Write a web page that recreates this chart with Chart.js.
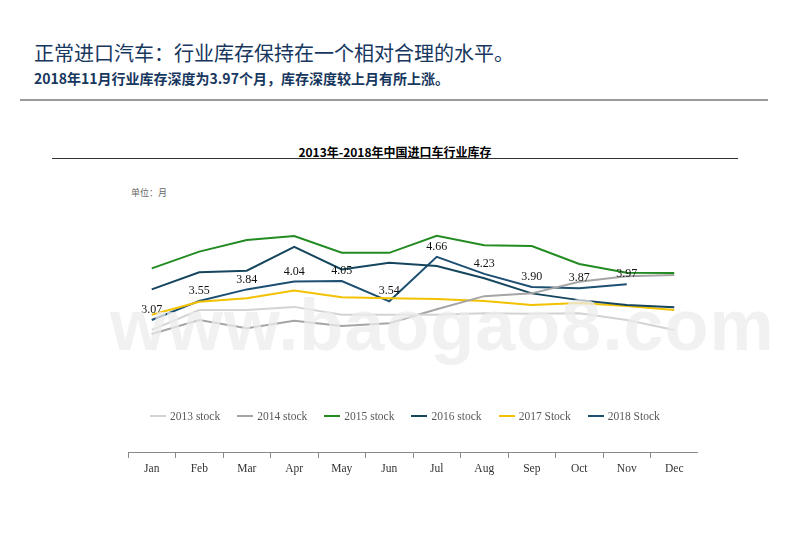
<!DOCTYPE html>
<html><head><meta charset="utf-8">
<script src="https://cdn.jsdelivr.net/npm/chart.js@4/dist/chart.umd.min.js"></script>
<style>
body{margin:0;width:800px;height:553px;background:#fff;position:relative;overflow:hidden;font-family:"Noto Sans CJK SC",sans-serif}
.a{position:absolute;white-space:nowrap}
#leg{position:absolute;left:150px;top:410px;font-family:"Liberation Serif",serif;font-size:11.5px;color:#595959;display:flex;gap:0}
#leg span{display:inline-flex;align-items:center;margin-right:17px}
#leg i{display:inline-block;width:16px;height:2px;margin-right:4px}
</style></head><body>
<div class="a" style="left:34px;top:38px;font-size:20px;color:#17375e">正常进口汽车：行业库存保持在一个相对合理的水平。</div>
<div class="a" style="left:34px;top:68px;font-size:14px;font-weight:bold;color:#17375e">2018年11月行业库存深度为3.97个月，库存深度较上月有所上涨。</div>
<div class="a" style="left:20px;top:99px;width:748px;height:2px;background:#9a9a9a"></div>
<div class="a" style="left:52px;top:143px;width:686px;text-align:center;font-size:12px;font-weight:bold;color:#000">2013年-2018年中国进口车行业库存</div>
<div class="a" style="left:52px;top:158px;width:686px;height:1px;background:#333"></div>
<div class="a" style="left:131px;top:186px;font-size:9px;color:#666">单位：月</div>
<canvas id="c" width="570" height="290" style="position:absolute;left:128px;top:190px;width:570px;height:290px"></canvas>
<div id="leg"></div>
<div class="a" style="left:110px;top:284px;font-family:'Liberation Sans',sans-serif;font-weight:bold;font-size:72px;color:rgba(236,236,236,0.75);letter-spacing:1px">www.baogao8.com</div>
<script>
const months=["Jan","Feb","Mar","Apr","May","Jun","Jul","Aug","Sep","Oct","Nov","Dec"];
const names=["2013 stock","2014 stock","2015 stock","2016 stock","2017 Stock","2018 Stock"];
const s2013=[2.82,3.32,3.32,3.40,3.20,3.20,3.20,3.24,3.23,3.24,3.07,2.82];
const s2014=[2.72,3.07,2.86,3.05,2.92,2.99,3.34,3.67,3.74,4.03,4.17,4.20];
const s2015=[4.37,4.79,5.08,5.18,4.76,4.76,5.19,4.95,4.93,4.48,4.26,4.25];
const s2016=[3.84,4.27,4.31,4.91,4.34,4.51,4.43,4.12,3.74,3.57,3.45,3.39];
const s2017=[3.20,3.53,3.62,3.81,3.64,3.62,3.60,3.55,3.45,3.50,3.42,3.32];
const s2018=[3.07,3.55,3.84,4.04,4.05,3.54,4.66,4.23,3.90,3.87,3.97];
const colors=["#d3d3d3","#a5a5a5","#228b22","#15465e","#f2c200","#1d4f72"];
const series=[s2013,s2014,s2015,s2016,s2017,s2018];
document.getElementById('leg').innerHTML=names.map((n,i)=>`<span><i style="background:${colors[i]}"></i>${n}</span>`).join('');
const labelPlugin={id:'lbl',afterDatasetsDraw(ch){const ctx=ch.ctx;const m=ch.getDatasetMeta(5);ctx.save();ctx.font='12px "Liberation Serif",serif';ctx.fillStyle='#111';ctx.textAlign='center';ctx.textBaseline='bottom';
m.data.forEach((p,i)=>{ctx.fillText(s2018[i].toFixed(2),p.x,p.y-4);});ctx.restore();}};
new Chart(document.getElementById('c'),{type:'line',
data:{labels:months,datasets:series.map((d,i)=>({label:names[i],data:d,borderColor:colors[i],backgroundColor:colors[i],borderWidth:2,pointRadius:0,tension:0}))},
options:{responsive:false,animation:false,devicePixelRatio:1,layout:{padding:0},
plugins:{legend:{display:false},tooltip:{enabled:false}},
scales:{y:{display:false,min:-0.25,max:6.34},
x:{offset:true,afterFit:s=>{s.height=28;},grid:{offset:true,drawOnChartArea:false,tickLength:6,color:'#888'},border:{color:'#888'},
ticks:{color:'#333',font:{family:'Liberation Serif',size:11.5},padding:4}}}},
plugins:[labelPlugin]});
</script></body></html>
